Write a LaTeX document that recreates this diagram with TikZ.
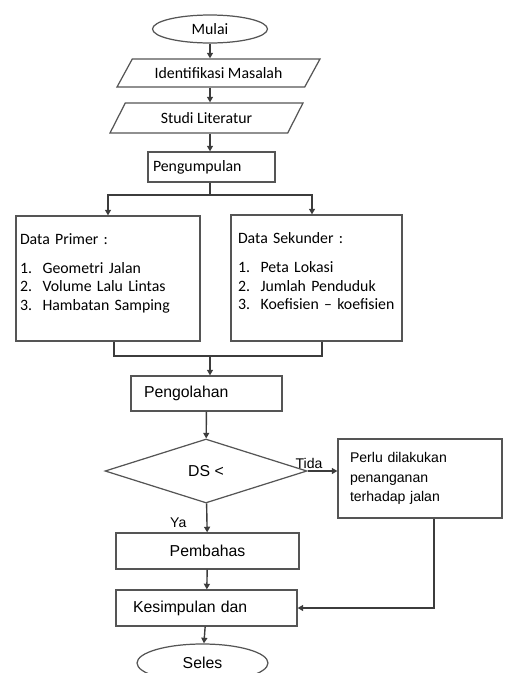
\documentclass[tikz,border=0pt]{standalone}
\usepackage{fontspec}
\setmainfont{Carlito}
\newfontfamily\arialfont{Liberation Sans}
\usepackage{xcolor}
\usetikzlibrary{arrows.meta,shapes.geometric}
\definecolor{lineink}{HTML}{3C3C3C}
\definecolor{boxink}{HTML}{555555}

\begin{document}
\begin{tikzpicture}[x=0.02cm,y=-0.02cm,
  box/.style={draw=boxink,line width=0.7pt,font=\fontsize{9}{10.5}\selectfont,inner sep=0pt},
  term/.style={box,ellipse},
  io/.style={box,trapezium,trapezium left angle=36,trapezium right angle=144,trapezium stretches body},
  txt/.style={font=\arialfont\fontsize{9}{11}\selectfont},
  lbl/.style={text=black,font=\arialfont\fontsize{8}{10}\selectfont},
  line/.style={lineink,line width=0.8pt},
  arr/.style={line,-{Triangle[length=3.2pt,width=3.4pt]}}
]
  \useasboundingbox (0,0) rectangle (504,673);
  \node[term,minimum width=2.3cm,minimum height=0.56cm] (mulai) at (210,29) {Mulai};
  \node[io,minimum width=4.06cm,minimum height=0.56cm] (ident) at (218.5,73) {Identifikasi Masalah};
  \node[io,minimum width=3.86cm,minimum height=0.6cm] (studi) at (206.5,118) {Studi Literatur};
  \node[box,minimum height=0.6cm,inner xsep=0.1cm,text width=2.34cm,align=left] (kumpul) at (211.5,167) {Pengumpulan};
  \node[box,minimum height=2.5cm,inner xsep=0.08cm,text width=3.52cm,align=left] (primer) at (108,278.5)
    {Data Primer :\\[6pt]
     1.~~Geometri Jalan\\
     2.~~Volume Lalu Lintas\\
     3.~~Hambatan Samping\\[-3pt]
     \mbox{}};
  \node[box,minimum height=2.52cm,inner xsep=0.14cm,text width=3.14cm,align=left] (sekunder) at (316.5,278)
    {Data Sekunder :\\[6pt]
     1.~~Peta Lokasi\\
     2.~~Jumlah Penduduk\\
     3.~~Koefisien -- koefisien\\[-3pt]
     \mbox{}};
  \node[box,txt,minimum height=0.7cm,inner xsep=0.26cm,text width=2.5cm,align=left] (olah) at (206.5,393.5) {Pengolahan};
  \node[box,txt,diamond,aspect=3.16,minimum width=4.04cm,minimum height=1.28cm] (ds) at (206,471) {DS <};
  \node[box,minimum height=1.58cm,inner xsep=0.24cm,text width=2.8cm,align=left,
        font=\arialfont\fontsize{8}{11.3}\selectfont] (perlu) at (420,478.5)
    {Perlu dilakukan\\ penanganan\\ terhadap jalan};
  \node[box,txt,minimum width=3.66cm,minimum height=0.72cm] (bahas) at (207.5,551) {Pembahas};
  \node[box,txt,minimum height=0.72cm,inner xsep=0.34cm,text width=2.94cm,align=left] (simpul) at (206.5,608) {Kesimpulan dan};
  \node[term,txt,minimum width=2.62cm,minimum height=0.76cm] (seles) at (202.5,663) {Seles};

  \coordinate (split) at (210,195);
  \coordinate (merge) at (210,356);
  \draw[arr] (mulai) -- (mulai |- ident.north);
  \draw[arr] (mulai |- ident.south) -- (mulai |- studi.north);
  \draw[arr] (mulai |- studi.south) -- (mulai |- kumpul.north);
  \draw[line] (split |- kumpul.south) -- (split);
  \draw[arr] (split) -| (primer);
  \draw[arr] (split) -| ([xshift=-0.09cm]sekunder.north);
  \draw[line] ([xshift=0.12cm]primer.south) |- (merge);
  \draw[line] ([xshift=0.11cm]sekunder.south) |- (merge);
  \draw[arr] (merge) -- (merge |- olah.north);
  \draw[arr] (olah) -- (ds);
  \draw[arr] (ds.east) -- node[pos=0.05,above,inner sep=1pt,lbl] {Tida} (ds.east -| perlu.west);
  \draw[arr] (ds) -- node[pos=0.65,left=8pt,lbl] {Ya} (bahas);
  \draw[arr] (bahas) -- (simpul);
  \draw[arr] ([xshift=0.28cm]perlu.south) |- (simpul);
  \draw[arr] (simpul) -- (seles);
\end{tikzpicture}
\end{document}
